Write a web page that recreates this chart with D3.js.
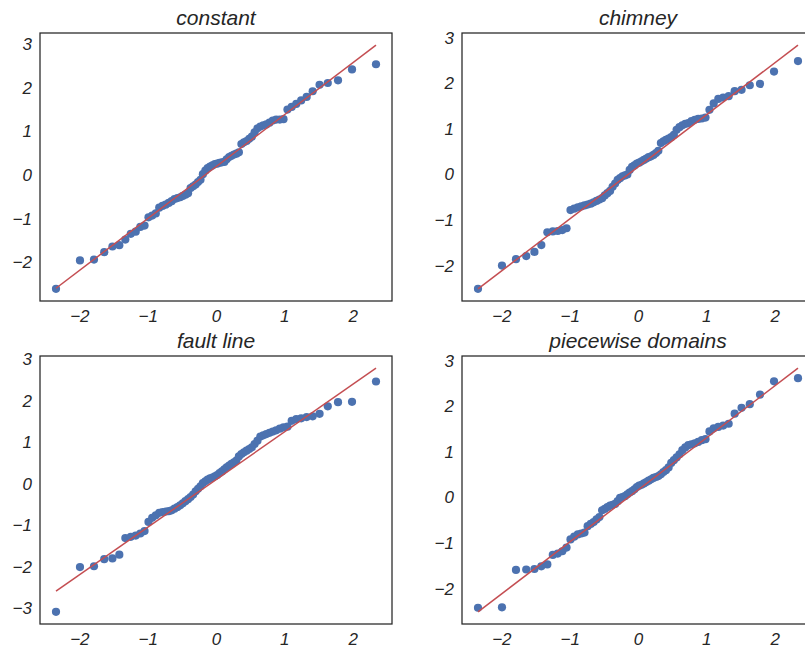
<!DOCTYPE html>
<html>
<head>
<meta charset="utf-8">
<script src="https://cdn.jsdelivr.net/npm/d3@7"></script>
<style>
  html, body { margin: 0; padding: 0; background: #ffffff; }
  svg { display: block; }
  text { font-family: "Liberation Sans", Arial, Helvetica, sans-serif; font-style: italic; fill: #262626; }
</style>
</head>
<body>
<svg id="chart" width="805" height="651"></svg>
<script>
// Theoretical normal quantiles (x positions shared by all four panels)
const quantiles = [
  -2.342, -1.991, -1.786, -1.636, -1.516, -1.415, -1.327, -1.247, -1.175, -1.108,
  -1.046, -0.988, -0.934, -0.881, -0.831, -0.783, -0.737, -0.692, -0.649, -0.607,
  -0.565, -0.525, -0.486, -0.448, -0.409, -0.372, -0.335, -0.298, -0.263, -0.227,
  -0.192, -0.156, -0.122, -0.087, -0.052, -0.017, 0.017, 0.052, 0.087, 0.122,
  0.156, 0.192, 0.227, 0.263, 0.298, 0.335, 0.372, 0.409, 0.448, 0.486,
  0.525, 0.565, 0.607, 0.649, 0.692, 0.737, 0.783, 0.831, 0.881, 0.934,
  0.988, 1.046, 1.108, 1.175, 1.247, 1.327, 1.415, 1.516, 1.636, 1.786,
  1.991, 2.342
];

// Ordered sample values per panel
const constantY = [
  -2.61, -1.96, -1.94, -1.77, -1.64, -1.61, -1.48, -1.35, -1.30, -1.19,
  -1.16, -0.97, -0.93, -0.88, -0.75, -0.71, -0.68, -0.64, -0.60, -0.55,
  -0.53, -0.51, -0.48, -0.45, -0.42, -0.30, -0.26, -0.22, -0.16, -0.11,
  0.02, 0.10, 0.16, 0.19, 0.22, 0.25, 0.26, 0.28, 0.29, 0.30,
  0.36, 0.41, 0.44, 0.47, 0.49, 0.52, 0.71, 0.75, 0.78, 0.83,
  0.88, 0.98, 1.07, 1.11, 1.14, 1.16, 1.20, 1.25, 1.27, 1.27,
  1.28, 1.50, 1.56, 1.63, 1.71, 1.79, 1.92, 2.07, 2.11, 2.17,
  2.42, 2.54
];
const chimneyY = [
  -2.51, -2.00, -1.86, -1.79, -1.70, -1.55, -1.27, -1.25, -1.24, -1.22,
  -1.18, -0.78, -0.75, -0.72, -0.70, -0.68, -0.66, -0.64, -0.61, -0.58,
  -0.55, -0.52, -0.46, -0.41, -0.36, -0.27, -0.20, -0.12, -0.08, -0.04,
  -0.02, 0.00, 0.10, 0.17, 0.20, 0.24, 0.26, 0.29, 0.32, 0.35,
  0.38, 0.40, 0.43, 0.47, 0.52, 0.69, 0.73, 0.76, 0.79, 0.82,
  0.87, 0.98, 1.04, 1.08, 1.11, 1.13, 1.17, 1.20, 1.22, 1.23,
  1.25, 1.42, 1.56, 1.66, 1.69, 1.72, 1.83, 1.86, 1.96, 1.99,
  2.26, 2.49
];
const faultLineY = [
  -3.09, -2.01, -1.99, -1.82, -1.80, -1.71, -1.31, -1.28, -1.25, -1.20,
  -1.14, -0.92, -0.82, -0.76, -0.70, -0.68, -0.67, -0.66, -0.64, -0.60,
  -0.56, -0.52, -0.47, -0.42, -0.37, -0.32, -0.26, -0.18, -0.12, -0.06,
  0.02, 0.06, 0.10, 0.13, 0.15, 0.18, 0.21, 0.26, 0.30, 0.35,
  0.40, 0.44, 0.48, 0.52, 0.56, 0.66, 0.72, 0.76, 0.80, 0.84,
  0.88, 0.96, 1.04, 1.14, 1.17, 1.20, 1.23, 1.26, 1.29, 1.33,
  1.36, 1.38, 1.52, 1.56, 1.58, 1.61, 1.63, 1.69, 1.87, 1.97,
  1.98, 2.47
];
const piecewiseY = [
  -2.42, -2.41, -1.59, -1.58, -1.57, -1.51, -1.47, -1.26, -1.23, -1.18,
  -1.10, -0.92, -0.86, -0.81, -0.79, -0.77, -0.63, -0.58, -0.54, -0.48,
  -0.43, -0.28, -0.25, -0.21, -0.18, -0.16, -0.14, -0.08, -0.01, 0.01,
  0.03, 0.07, 0.11, 0.14, 0.18, 0.23, 0.26, 0.28, 0.31, 0.34,
  0.37, 0.40, 0.43, 0.45, 0.47, 0.51, 0.56, 0.60, 0.66, 0.76,
  0.82, 0.88, 0.95, 1.04, 1.10, 1.15, 1.17, 1.19, 1.22, 1.26,
  1.28, 1.45, 1.52, 1.55, 1.58, 1.62, 1.84, 1.97, 2.05, 2.26,
  2.55, 2.62
];

const panelTitles = ["constant", "chimney", "fault line", "piecewise domains"];
const fitSlopes = [1.19, 1.142, 1.149, 1.142];
const fitIntercepts = [0.19, 0.165, 0.10, 0.165];
const xTickValues = [-2, -1, 0, 1, 2];
const yTickValues = [
  [-2, -1, 0, 1, 2, 3],
  [-2, -1, 0, 1, 2, 3],
  [-3, -2, -1, 0, 1, 2, 3],
  [-2, -1, 0, 1, 2, 3]
];

const seriesY = [constantY, chimneyY, faultLineY, piecewiseY];

const layout = [
  { left: 40, top: 33 },
  { left: 462, top: 33 },
  { left: 40, top: 356 },
  { left: 462, top: 356 }
];
const panelW = 352, panelH = 268;

const svg = d3.select("#chart");
const fmt = v => (v < 0 ? "\u2212" + Math.abs(v) : String(v));

panelTitles.forEach((title, k) => {
  const ys = seriesY[k];
  const x0 = d3.min(quantiles), x1 = d3.max(quantiles);
  const lineStart = fitIntercepts[k] + fitSlopes[k] * x0;
  const lineEnd = fitIntercepts[k] + fitSlopes[k] * x1;
  const xPad = (x1 - x0) * 0.05;
  const yLo = Math.min(d3.min(ys), lineStart, lineEnd);
  const yHi = Math.max(d3.max(ys), lineStart, lineEnd);
  const yPad = (yHi - yLo) * 0.05;

  const x = d3.scaleLinear().domain([x0 - xPad, x1 + xPad]).range([0, panelW]);
  const y = d3.scaleLinear().domain([yLo - yPad, yHi + yPad]).range([panelH, 0]);

  const g = svg.append("g").attr("transform", `translate(${layout[k].left},${layout[k].top})`);

  // axes (labels only, no tick marks)
  const xAxis = d3.axisBottom(x).tickValues(xTickValues).tickFormat(fmt).tickSize(0).tickPadding(9);
  const yAxis = d3.axisLeft(y).tickValues(yTickValues[k]).tickFormat(fmt).tickSize(0).tickPadding(8);
  const gx = g.append("g").attr("transform", `translate(0,${panelH})`).call(xAxis);
  const gy = g.append("g").call(yAxis);
  [gx, gy].forEach(a => {
    a.select(".domain").remove();
    a.selectAll("text").attr("font-size", 17).attr("font-style", "italic")
      .attr("font-family", '"Liberation Sans", Arial, sans-serif').attr("fill", "#262626");
  });

  // points
  g.append("g").selectAll("circle")
    .data(quantiles.map((q, i) => [q, ys[i]]))
    .join("circle")
    .attr("cx", d => x(d[0]))
    .attr("cy", d => y(d[1]))
    .attr("r", 4.1)
    .attr("fill", "#4c72b0");

  // fit line
  g.append("line")
    .attr("x1", x(x0)).attr("y1", y(lineStart))
    .attr("x2", x(x1)).attr("y2", y(lineEnd))
    .attr("stroke", "#c44e52").attr("stroke-width", 1.5);

  // frame
  g.append("rect")
    .attr("x", 0).attr("y", 0).attr("width", panelW).attr("height", panelH)
    .attr("fill", "none").attr("stroke", "#262626").attr("stroke-width", 1.25);

  // title
  g.append("text")
    .attr("x", panelW / 2).attr("y", -8)
    .attr("text-anchor", "middle")
    .attr("font-size", 21)
    .text(title);
});
</script>
</body>
</html>
